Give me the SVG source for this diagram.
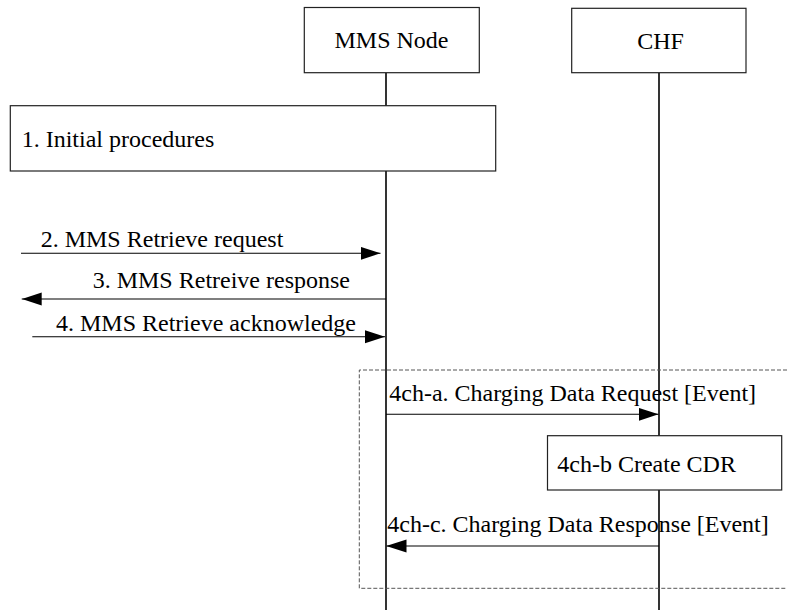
<svg xmlns="http://www.w3.org/2000/svg" width="787" height="610" viewBox="0 0 787 610" font-family="'Liberation Serif', 'Times New Roman', serif" font-size="24">
<style>
  text { font-family: 'Liberation Serif', 'Times New Roman', serif; font-size: 24px; fill: #000; }
  .box { fill: #fff; stroke: #222; stroke-width: 1.2; }
  .life { stroke: #000; stroke-width: 1.6; fill: none; }
  .msg { stroke: #000; stroke-width: 1.1; fill: none; marker-end: url(#ah); }
  .grp { fill: none; stroke: #555; stroke-width: 1; stroke-dasharray: 4 2; }
</style>
<defs>
  <marker id="ah" markerUnits="userSpaceOnUse" markerWidth="20" markerHeight="14" refX="20" refY="6.5" orient="auto">
    <path d="M0,0 L20,6.5 L0,13 Z" fill="#000"/>
  </marker>
</defs>
<rect width="787" height="610" fill="#fff"/>

<g id="lifelines">
  <line class="life" x1="386" y1="72.7" x2="386" y2="610"/>
  <line class="life" x1="659" y1="72.7" x2="659" y2="610"/>
</g>

<g id="mms-node">
  <rect class="box" x="304.3" y="7.5" width="175" height="65.2"/>
  <text x="391.5" y="48.3" text-anchor="middle">MMS Node</text>
</g>
<g id="chf">
  <rect class="box" x="571.7" y="8.3" width="174.3" height="64.4"/>
  <text x="660.5" y="49.3" text-anchor="middle">CHF</text>
</g>
<g id="initial-procedures">
  <rect class="box" x="10.3" y="105.7" width="485.4" height="65.3"/>
  <text x="21.7" y="147.3">1. Initial procedures</text>
</g>

<g id="charging-group">
  <path class="grp" d="M787,370 L359.3,370 L359.3,588.3 L787,588.3"/>
</g>

<g id="create-cdr">
  <rect class="box" x="547.5" y="435.7" width="234.2" height="54.3"/>
  <text x="557.3" y="471.7">4ch-b Create CDR</text>
</g>

<g id="connectors">
  <line class="msg" x1="21" y1="253.3" x2="380.5" y2="253.3"/>
  <line class="msg" x1="386" y1="299" x2="21.7" y2="299"/>
  <line class="msg" x1="32.3" y1="336.7" x2="385" y2="336.7"/>
  <line class="msg" x1="386" y1="414.3" x2="658.5" y2="414.3"/>
  <line class="msg" x1="659" y1="546" x2="386.5" y2="546"/>
</g>

<g id="labels">
  <text x="40.7" y="246.7">2. MMS Retrieve request</text>
  <text x="92.7" y="288.3">3. MMS Retreive response</text>
  <text x="56" y="331">4. MMS Retrieve acknowledge</text>
  <text x="389.3" y="400.7">4ch-a. Charging Data Request [Event]</text>
  <text x="387.3" y="531.7">4ch-c. Charging Data Response [Event]</text>
</g>
</svg>
